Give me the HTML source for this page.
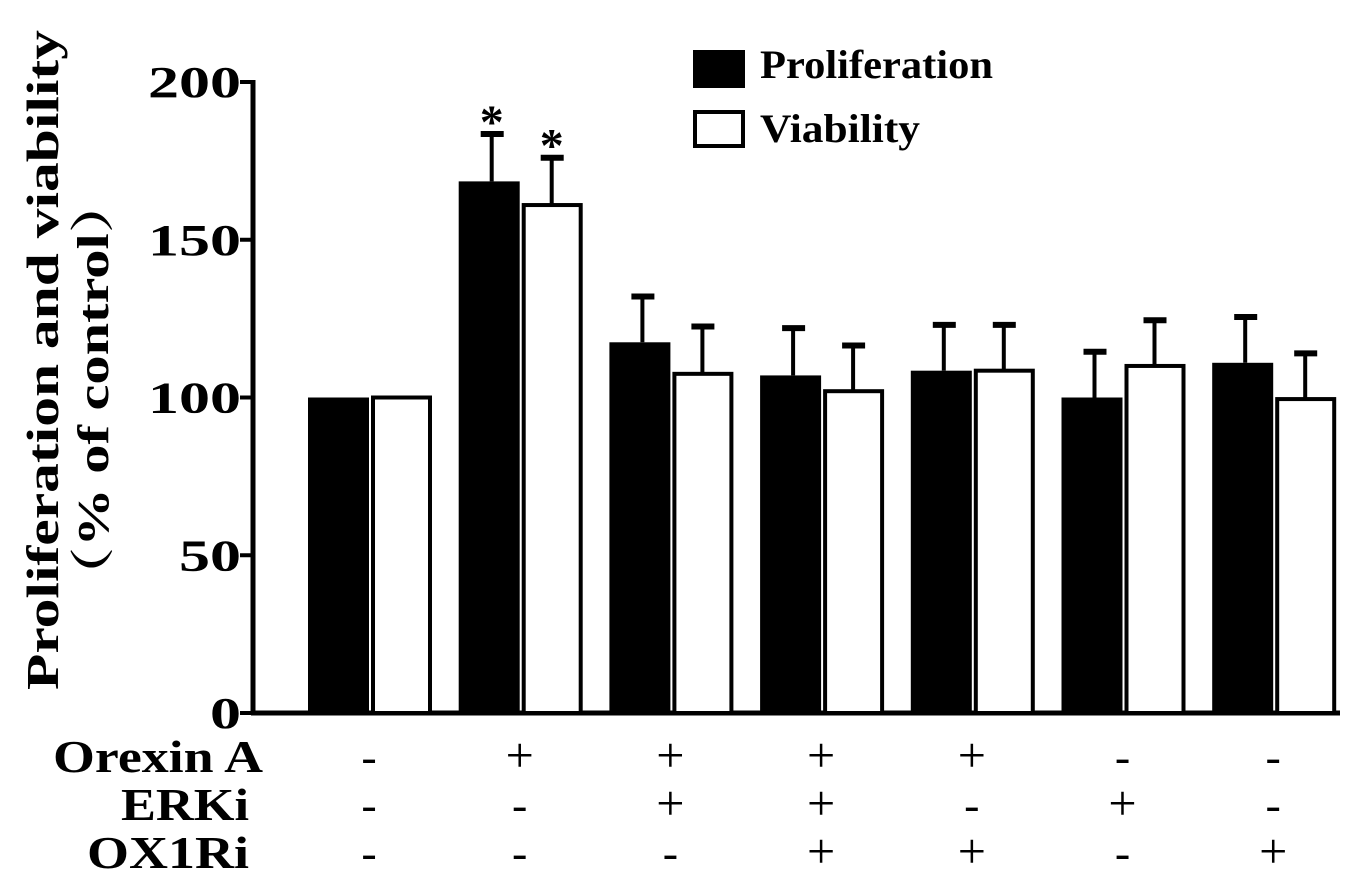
<!DOCTYPE html>
<html><head><meta charset="utf-8"><style>
html,body{margin:0;padding:0;background:#fff;}
svg{display:block;font-family:"Liberation Serif",serif;font-weight:bold;}
</style></head><body>
<svg id="chart" width="1354" height="880">
<g id="g"></g>
</svg>
<script>
const categories=["Control","OrexinA","OrexinA+ERKi","OrexinA+ERKi+OX1Ri","OrexinA+OX1Ri","ERKi","OX1Ri"];
const prolif=[100,168.5,117.5,107,108.5,100,111];
const prolifErr=[0,15,14.5,15,14.5,14.5,14.5];
const viab=[100,161,107.5,102,108.5,110,99.5];
const viabErr=[0,15,15,14.5,14.5,14.5,14.5];
const yTicks=[0,50,100,150,200];
const rowLabels=["Orexin A","ERKi","OX1Ri"];
const orexin=["-","+","+","+","+","-","-"];
const erki=["-","-","+","+","-","+","-"];
const ox1ri=["-","-","-","+","+","-","+"];
const sig=[false,true,false,false,false,false,false];

const NS="http://www.w3.org/2000/svg";
const g=document.getElementById("g");
function mk(t,a,parent){const e=document.createElementNS(NS,t);for(const k in a)e.setAttribute(k,a[k]);(parent||g).appendChild(e);return e;}
const y=v=>713-v*3.155;
const gx=i=>339+i*150.7;

const ya=mk("line",{x1:253,y1:80,x2:253,y2:715,stroke:"#000","stroke-width":5});


const xa=mk("line",{x1:251,y1:713,x2:1340,y2:713,stroke:"#000","stroke-width":5});


yTicks.forEach(v=>{
  const tk=mk("line",{x1:240,y1:y(v),x2:253,y2:y(v),stroke:"#000","stroke-width":4});
  
  
  const s=String(v);
  const t=mk("text",{x:241,y:y(v)+15,"text-anchor":"end","font-size":44,textLength:s.length*31,lengthAdjust:"spacingAndGlyphs"});
  t.textContent=s;
  
  
});
const t1=mk("text",{transform:"translate(58,360) rotate(-90)","text-anchor":"middle","font-size":46,textLength:660,lengthAdjust:"spacingAndGlyphs"});
t1.textContent="Proliferation and viability";


const t2=mk("text",{transform:"translate(108,390) rotate(-90)","text-anchor":"middle","font-size":44,textLength:430,lengthAdjust:"spacingAndGlyphs","font-family":"'Liberation Serif','Noto Serif CJK SC',serif"});
t2.textContent="（% of control）";



function errbar(cx,v,e){
  if(e<=0)return;
  const s=mk("line",{x1:cx,y1:y(v),x2:cx,y2:y(v+e),stroke:"#000","stroke-width":4});
  
  
  const c=mk("line",{x1:cx-11,y1:y(v+e),x2:cx+12,y2:y(v+e),stroke:"#000","stroke-width":6});
  
  
}
categories.forEach((c,i)=>{
  const cx=gx(i);
  const b=mk("rect",{x:cx-31,y:y(prolif[i]),width:61,height:713-y(prolif[i]),fill:"#000"});
  
  
  const w=mk("rect",{x:cx+34,y:y(viab[i]),width:57,height:713-y(viab[i]),fill:"#fff",stroke:"#000","stroke-width":4});
  
  
  errbar(cx+2,prolif[i],prolifErr[i]);
  errbar(cx+62,viab[i],viabErr[i]);
  if(sig[i]){
    [[cx+2,prolif[i]+prolifErr[i]],[cx+62,viab[i]+viabErr[i]]].forEach(p=>{
      const s=mk("text",{x:p[0],y:y(p[1])+4,"text-anchor":"middle","font-size":48});
      s.textContent="*";
      
      
    });
  }
  [orexin,erki,ox1ri].forEach((arr,r)=>{
    const t=mk("text",{x:cx+30,y:772+r*48,"text-anchor":"middle","font-size":arr[i]=="+"?50:46,"font-weight":"normal"});
    t.textContent=arr[i];
    
    
  });
});
const rowW=[210,128,162];
const rowX=[263,249,249];
rowLabels.forEach((l,r)=>{
  const t=mk("text",{x:rowX[r],y:772+r*48,"text-anchor":"end","font-size":46,textLength:rowW[r],lengthAdjust:"spacingAndGlyphs"});
  t.textContent=l;
  
  
});
const l1=mk("rect",{x:693,y:50,width:52,height:38,fill:"#000"});


const l2=mk("rect",{x:695,y:112,width:48,height:34,fill:"#fff",stroke:"#000","stroke-width":4});


const lt1=mk("text",{x:760,y:78,"font-size":40,textLength:233,lengthAdjust:"spacingAndGlyphs"});
lt1.textContent="Proliferation";


const lt2=mk("text",{x:760,y:142,"font-size":40,textLength:160,lengthAdjust:"spacingAndGlyphs"});
lt2.textContent="Viability";


</script>
</body></html>
